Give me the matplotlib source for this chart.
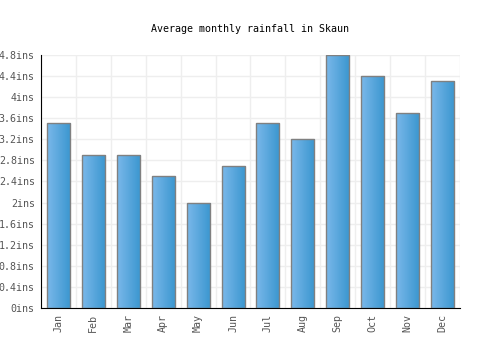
import numpy as np
import matplotlib.pyplot as plt
from matplotlib.colors import LinearSegmentedColormap

months = ['Jan', 'Feb', 'Mar', 'Apr', 'May', 'Jun', 'Jul', 'Aug', 'Sep', 'Oct', 'Nov', 'Dec']
rainfall = [3.5, 2.9, 2.9, 2.5, 2.0, 2.7, 3.5, 3.2, 4.8, 4.4, 3.7, 4.3]
yticks = [0, 0.4, 0.8, 1.2, 1.6, 2, 2.4, 2.8, 3.2, 3.6, 4, 4.4, 4.8]
ylabels = ['0ins', '0.4ins', '0.8ins', '1.2ins', '1.6ins', '2ins', '2.4ins',
           '2.8ins', '3.2ins', '3.6ins', '4ins', '4.4ins', '4.8ins']

plt.rcParams['font.family'] = 'DejaVu Sans Mono'

fig = plt.figure(figsize=(5, 3.5), dpi=100)
ax = fig.add_axes([0.082, 0.12, 0.838, 0.723])

x = np.arange(len(months))
width = 0.66

# gradient blue bars, light on the left, darker on the right
cmap = LinearSegmentedColormap.from_list('bar', ['#7ab8ea', '#3a96cf'])
grad = np.linspace(0, 1, 64).reshape(1, -1)
bars = ax.bar(x, rainfall, width, color='none', edgecolor='#808080', linewidth=1, zorder=3)
for b in bars:
    im = ax.imshow(grad, cmap=cmap, aspect='auto', zorder=2, origin='lower',
                   extent=[b.get_x(), b.get_x() + b.get_width(), 0, b.get_height()])
    im.set_clip_path(b)

ax.set_xlim(-0.5, len(months) - 0.5)
ax.set_ylim(0, 4.8)

ax.set_yticks(yticks)
ax.set_yticklabels(ylabels, fontsize=7.2, color='#555555')
ax.set_xticks(x)
ax.set_xticklabels(months, rotation=90, fontsize=7.2, color='#555555')
ax.set_xticks(np.arange(-0.5, len(months)), minor=True)
ax.tick_params(which='both', length=0)
ax.tick_params(axis='y', pad=4.5)
ax.tick_params(axis='x', pad=4)

ax.grid(axis='y', color='#eeeeee', linewidth=1, zorder=0)
ax.grid(axis='x', which='minor', color='#eeeeee', linewidth=1, zorder=0)
ax.grid(axis='x', which='major', visible=False)

for s in ['top', 'right']:
    ax.spines[s].set_visible(False)
ax.spines['left'].set_color('black')
ax.spines['bottom'].set_color('black')

fig.suptitle('Average monthly rainfall in Skaun', fontsize=7.2, y=0.93)

fig.savefig('out.png', dpi=100)
